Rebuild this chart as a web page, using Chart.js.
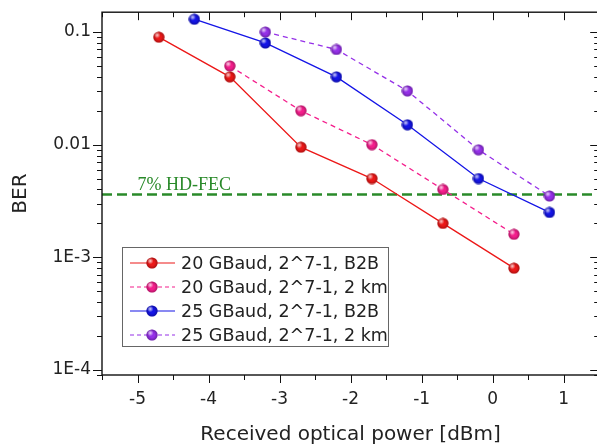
<!DOCTYPE html>
<html>
<head>
<meta charset="utf-8">
<script src="https://cdn.jsdelivr.net/npm/chart.js@4/dist/chart.umd.min.js"></script>
<style>
  html,body{margin:0;padding:0;background:#fff;overflow:hidden;}
  canvas{display:block;}
</style>
</head>
<body>
<canvas id="c" width="606" height="447"></canvas>
<script>
// -------------------------------------------------------------
// data
// -------------------------------------------------------------
const powerA = [-4.7, -3.7, -2.7, -1.7, -0.7, 0.3];   // 20 GBaud B2B
const berA   = [0.090, 0.040, 0.0095, 0.0050, 0.0020, 0.00080];
const powerB = [-3.7, -2.7, -1.7, -0.7, 0.3];         // 20 GBaud 2 km
const berB   = [0.050, 0.020, 0.010, 0.0040, 0.0016];
const powerC = [-4.2, -3.2, -2.2, -1.2, -0.2, 0.8];   // 25 GBaud B2B
const berC   = [0.13, 0.080, 0.040, 0.015, 0.0050, 0.0025];
const powerD = [-3.2, -2.2, -1.2, -0.2, 0.8];         // 25 GBaud 2 km
const berD   = [0.10, 0.070, 0.030, 0.0090, 0.0035];

const seriesLabels = ["20 GBaud, 2^7-1, B2B", "20 GBaud, 2^7-1, 2 km", "25 GBaud, 2^7-1, B2B", "25 GBaud, 2^7-1, 2 km"];

const fecLevel = 0.0036;
const fecLabel = "7% HD-FEC";
const fecSpan  = [-5.5, 1.5];

const yTickValues = [1e-4, 1e-3, 0.01, 0.1];
const yTickLabels = ["1E-4", "1E-3", "0.01", "0.1"];

// -------------------------------------------------------------
// looks
// -------------------------------------------------------------
const COLORS = ["#ec1818", "#f41e8c", "#1414e6", "#9530e8"];
const FONT = '"DejaVu Sans", sans-serif';

// little shaded ball used as marker
function ball(color){
  const c = document.createElement("canvas");
  c.width = 12; c.height = 12;
  const g = c.getContext("2d");
  g.beginPath(); g.arc(6,6,5.6,0,Math.PI*2); g.fillStyle = color; g.fill();
  let grd = g.createRadialGradient(6,6,2.5, 6,6,5.8);
  grd.addColorStop(0,"rgba(0,0,0,0)"); grd.addColorStop(1,"rgba(0,0,0,0.3)");
  g.fillStyle = grd; g.fill();
  grd = g.createRadialGradient(4.3,4,0, 4.3,4,3.2);
  grd.addColorStop(0,"rgba(255,255,255,0.8)"); grd.addColorStop(1,"rgba(255,255,255,0)");
  g.fillStyle = grd; g.fill();
  return c;
}
const BALLS = COLORS.map(ball);

const pts = (xs, ys) => xs.map((x,i)=>({x, y: ys[i]}));

function series(i, xs, ys, dashed){
  return {
    label: seriesLabels[i],
    data: pts(xs, ys),
    borderColor: COLORS[i],
    backgroundColor: COLORS[i],
    borderWidth: 1.3,
    borderDash: dashed ? [5,4] : [],
    pointStyle: BALLS[i],
    pointRadius: 5.5,
    tension: 0,
    order: 1
  };
}

// -------------------------------------------------------------
// plugins: frame with mirrored ticks, FEC label, legend box
// -------------------------------------------------------------
const isDecadeMantissa = v => {
  const e = Math.floor(Math.log10(v) + 1e-9);
  const m = v / Math.pow(10, e);
  return Math.abs(m - Math.round(m)) < 1e-6 ? Math.round(m) : 0;
};

const frame = {
  id: "frame",
  afterDatasetsDraw(chart){
    const {ctx, chartArea:a, scales:{x, y}} = chart;
    ctx.save();
    ctx.strokeStyle = "#111";
    ctx.lineWidth = 1;
    ctx.beginPath();
    x.ticks.forEach(t=>{
      const px = Math.round(x.getPixelForValue(t.value)) + 0.5;
      const len = Number.isInteger(t.value) ? 8 : 5;
      ctx.moveTo(px, a.bottom); ctx.lineTo(px, a.bottom + len);
      ctx.moveTo(px, a.top);    ctx.lineTo(px, a.top + len);
    });
    y.ticks.forEach(t=>{
      const m = isDecadeMantissa(t.value);
      if(!m) return;
      const py = Math.round(y.getPixelForValue(t.value)) + 0.5;
      const len = m===1 ? 9 : 5;
      ctx.moveTo(a.left - len, py); ctx.lineTo(a.left, py);
      ctx.moveTo(a.right - len, py); ctx.lineTo(a.right, py);
    });
    ctx.stroke();
    ctx.lineWidth = 1.4;
    ctx.strokeRect(a.left, a.top, a.right - a.left, a.bottom - a.top);

    // FEC label
    ctx.font = '18px "Liberation Serif", serif';
    ctx.fillStyle = "#2a8a2a";
    ctx.textAlign = "left";
    ctx.textBaseline = "alphabetic";
    ctx.fillText(fecLabel, x.getPixelForValue(-5), y.getPixelForValue(fecLevel) - 5);
    ctx.restore();
  },
  afterDraw(chart){
    const ctx = chart.ctx;
    const bx = 122, by = 247, bw = 266, bh = 99;
    ctx.save();
    ctx.fillStyle = "#fff";
    ctx.fillRect(bx, by, bw, bh);
    ctx.strokeStyle = "#666"; ctx.lineWidth = 1;
    ctx.strokeRect(bx + 0.5, by + 0.5, bw, bh);
    chart.data.datasets.slice(0,4).forEach((ds, i)=>{
      const yy = by + 16 + i*24;
      ctx.strokeStyle = ds.borderColor;
      ctx.lineWidth = 1.2;
      ctx.setLineDash(ds.borderDash.length ? [4,3] : []);
      ctx.beginPath(); ctx.moveTo(130, yy); ctx.lineTo(175, yy); ctx.stroke();
      ctx.setLineDash([]);
      ctx.drawImage(ds.pointStyle, 152 - 6, yy - 6);
      ctx.fillStyle = "#222";
      ctx.font = '17.5px ' + FONT;
      ctx.textAlign = "left"; ctx.textBaseline = "middle";
      ctx.fillText(ds.label, 181, yy + 1);
    });
    ctx.restore();
  }
};

// -------------------------------------------------------------
// chart
// -------------------------------------------------------------
Chart.defaults.font.family = FONT;
Chart.defaults.color = "#222";

new Chart(document.getElementById("c"), {
  type: "line",
  data: {
    datasets: [
      series(0, powerA, berA, false),
      series(1, powerB, berB, true),
      series(2, powerC, berC, false),
      series(3, powerD, berD, true),
      {
        label: fecLabel,
        data: pts(fecSpan, [fecLevel, fecLevel]),
        borderColor: "#2a8a2a",
        borderWidth: 2.5,
        borderDash: [10,5],
        pointRadius: 0,
        order: 10
      }
    ]
  },
  options: {
    responsive: false, animation: false,
    layout: { padding: { top: 11, right: 1, left: 0, bottom: 0 } },
    plugins: { legend: { display: false }, tooltip: { enabled: false } },
    scales: {
      x: {
        type: "linear", min: -5.5, max: 1.5,
        afterFit: s => { s.height = 72; s.paddingLeft = 0; s.paddingRight = 0; },
        border: { display: false },
        grid: { drawOnChartArea: false, drawTicks: true, tickLength: 8, color: "rgba(0,0,0,0)" },
        ticks: {
          stepSize: 0.5, autoSkip: false, maxRotation: 0, padding: 6,
          font: { size: 17 },
          callback: v => Number.isInteger(v) ? String(v) : ""
        },
        title: { display: true, text: "Received optical power [dBm]", font: { size: 20 }, padding: { top: 0, bottom: 0 } }
      },
      y: {
        type: "logarithmic", min: 9e-5, max: 0.15,
        afterFit: s => { s.width = 102; },
        border: { display: false },
        grid: { drawOnChartArea: false, drawTicks: true, tickLength: 9, color: "rgba(0,0,0,0)" },
        ticks: {
          autoSkip: false, padding: 2,
          font: { size: 17 },
          callback: v => {
            const k = yTickValues.findIndex(t => Math.abs(Math.log10(t) - Math.log10(v)) < 1e-6);
            return k >= 0 ? yTickLabels[k] : "";
          }
        },
        title: { display: true, text: "BER", font: { size: 20 }, padding: { top: 9, bottom: 0 } }
      }
    }
  },
  plugins: [frame]
});
</script>
</body>
</html>
